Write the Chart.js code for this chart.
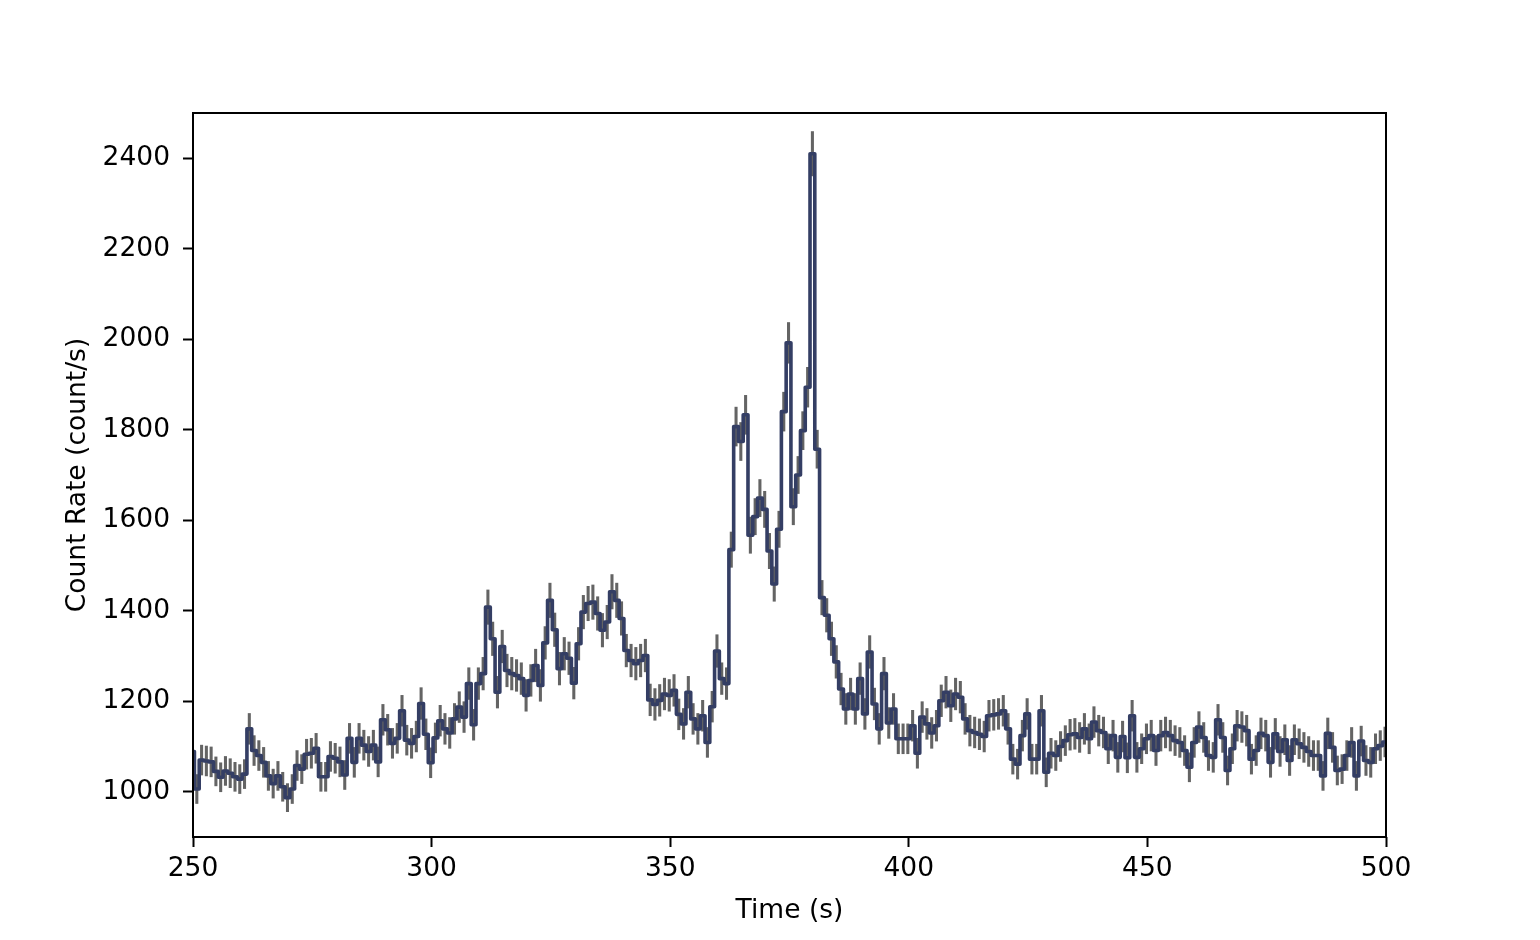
<!DOCTYPE html>
<html>
<head>
<meta charset="utf-8">
<script src="https://cdn.jsdelivr.net/npm/chart.js@4.4.1/dist/chart.umd.min.js"></script>
<style>
  html, body { margin: 0; padding: 0; background: #fff; }
  canvas { display: block; }
</style>
</head>
<body>
<canvas id="chart" width="1540" height="940"></canvas>
<script>
// bin centres (s), 1 s bins
var times = [
  249.8, 250.8, 251.8, 252.8, 253.8, 254.8, 255.8, 256.8, 257.8, 258.8,
  259.8, 260.8, 261.8, 262.8, 263.8, 264.8, 265.8, 266.8, 267.8, 268.8,
  269.8, 270.8, 271.8, 272.8, 273.8, 274.8, 275.8, 276.8, 277.8, 278.8,
  279.8, 280.8, 281.8, 282.8, 283.8, 284.8, 285.8, 286.8, 287.8, 288.8,
  289.8, 290.8, 291.8, 292.8, 293.8, 294.8, 295.8, 296.8, 297.8, 298.8,
  299.8, 300.8, 301.8, 302.8, 303.8, 304.8, 305.8, 306.8, 307.8, 308.8,
  309.8, 310.8, 311.8, 312.8, 313.8, 314.8, 315.8, 316.8, 317.8, 318.8,
  319.8, 320.8, 321.8, 322.8, 323.8, 324.8, 325.8, 326.8, 327.8, 328.8,
  329.8, 330.8, 331.8, 332.8, 333.8, 334.8, 335.8, 336.8, 337.8, 338.8,
  339.8, 340.8, 341.8, 342.8, 343.8, 344.8, 345.8, 346.8, 347.8, 348.8,
  349.8, 350.8, 351.8, 352.8, 353.8, 354.8, 355.8, 356.8, 357.8, 358.8,
  359.8, 360.8, 361.8, 362.8, 363.8, 364.8, 365.8, 366.8, 367.8, 368.8,
  369.8, 370.8, 371.8, 372.8, 373.8, 374.8, 375.8, 376.8, 377.8, 378.8,
  379.8, 380.8, 381.8, 382.8, 383.8, 384.8, 385.8, 386.8, 387.8, 388.8,
  389.8, 390.8, 391.8, 392.8, 393.8, 394.8, 395.8, 396.8, 397.8, 398.8,
  399.8, 400.8, 401.8, 402.8, 403.8, 404.8, 405.8, 406.8, 407.8, 408.8,
  409.8, 410.8, 411.8, 412.8, 413.8, 414.8, 415.8, 416.8, 417.8, 418.8,
  419.8, 420.8, 421.8, 422.8, 423.8, 424.8, 425.8, 426.8, 427.8, 428.8,
  429.8, 430.8, 431.8, 432.8, 433.8, 434.8, 435.8, 436.8, 437.8, 438.8,
  439.8, 440.8, 441.8, 442.8, 443.8, 444.8, 445.8, 446.8, 447.8, 448.8,
  449.8, 450.8, 451.8, 452.8, 453.8, 454.8, 455.8, 456.8, 457.8, 458.8,
  459.8, 460.8, 461.8, 462.8, 463.8, 464.8, 465.8, 466.8, 467.8, 468.8,
  469.8, 470.8, 471.8, 472.8, 473.8, 474.8, 475.8, 476.8, 477.8, 478.8,
  479.8, 480.8, 481.8, 482.8, 483.8, 484.8, 485.8, 486.8, 487.8, 488.8,
  489.8, 490.8, 491.8, 492.8, 493.8, 494.8, 495.8, 496.8, 497.8, 498.8,
  499.8
];

// count rate (count/s)
var rates = [
  1089, 1006, 1070, 1068, 1066, 1045, 1032, 1046, 1041, 1033,
  1028, 1039, 1139, 1091, 1080, 1065, 1035, 1018, 1035, 1011,
  987, 1006, 1058, 1050, 1083, 1085, 1096, 1033, 1033, 1078,
  1074, 1066, 1037, 1118, 1065, 1118, 1103, 1089, 1103, 1066,
  1159, 1137, 1107, 1118, 1179, 1114, 1107, 1122, 1195, 1127,
  1064, 1119, 1157, 1139, 1130, 1161, 1187, 1165, 1239, 1148,
  1239, 1261, 1408, 1338, 1220, 1321, 1268, 1261, 1257, 1250,
  1213, 1246, 1279, 1235, 1329, 1423, 1358, 1272, 1305, 1295,
  1240, 1327, 1397, 1416, 1419, 1394, 1357, 1375, 1442, 1423,
  1383, 1312, 1290, 1283, 1290, 1301, 1203, 1193, 1202, 1216,
  1213, 1224, 1171, 1150, 1220, 1161, 1139, 1168, 1109, 1188,
  1311, 1250, 1239, 1535, 1807, 1774, 1833, 1567, 1608, 1649,
  1624, 1532, 1459, 1580, 1840, 1992, 1630, 1700, 1798, 1894,
  2410, 1757, 1429, 1390, 1338, 1287, 1227, 1183, 1216, 1183,
  1250, 1172, 1309, 1194, 1139, 1261, 1152, 1183, 1117, 1117,
  1117, 1146, 1085, 1165, 1150, 1130, 1146, 1201, 1220, 1190,
  1216, 1209, 1161, 1135, 1131, 1127, 1122, 1168, 1170, 1172,
  1179, 1139, 1072, 1061, 1124, 1172, 1072, 1072, 1179, 1043,
  1085, 1080, 1100, 1113, 1126, 1128, 1120, 1139, 1117, 1154,
  1135, 1131, 1095, 1124, 1076, 1122, 1075, 1168, 1076, 1095,
  1117, 1124, 1091, 1124, 1131, 1124, 1113, 1109, 1091, 1054,
  1109, 1143, 1120, 1080, 1076, 1159, 1120, 1047, 1095, 1146,
  1143, 1135, 1072, 1091, 1129, 1124, 1065, 1128, 1089, 1115,
  1069, 1115, 1106, 1098, 1089, 1080, 1080, 1035, 1129, 1098,
  1047, 1050, 1080, 1109, 1035, 1112, 1069, 1065, 1095, 1102,
  1110
];

// 1-sigma error (count/s)
var errors = [
  33, 32, 33, 33, 33, 32, 32, 32, 32, 32,
  32, 32, 34, 33, 33, 33, 32, 32, 32, 32,
  31, 32, 33, 32, 33, 33, 33, 32, 32, 33,
  33, 33, 32, 33, 33, 33, 33, 33, 33, 33,
  34, 34, 33, 33, 34, 33, 33, 34, 35, 34,
  33, 33, 34, 34, 34, 34, 34, 34, 35, 34,
  35, 36, 38, 37, 35, 36, 36, 36, 35, 35,
  35, 35, 36, 35, 36, 38, 37, 36, 36, 36,
  35, 36, 37, 38, 38, 37, 37, 37, 38, 38,
  37, 36, 36, 36, 36, 36, 35, 35, 35, 35,
  35, 35, 34, 34, 35, 34, 34, 34, 33, 34,
  36, 35, 35, 39, 43, 42, 43, 40, 40, 41,
  40, 39, 38, 40, 43, 45, 40, 41, 42, 44,
  49, 42, 38, 37, 37, 36, 35, 34, 35, 34,
  35, 34, 36, 35, 34, 36, 34, 34, 33, 33,
  33, 34, 33, 34, 34, 34, 34, 35, 35, 35,
  35, 35, 34, 34, 34, 34, 34, 34, 34, 34,
  34, 34, 33, 33, 34, 34, 33, 33, 34, 32,
  33, 33, 33, 33, 34, 34, 33, 34, 33, 34,
  34, 34, 33, 34, 33, 34, 33, 34, 33, 33,
  33, 34, 33, 34, 34, 34, 33, 33, 33, 32,
  33, 34, 33, 33, 33, 34, 33, 32, 33, 34,
  34, 34, 33, 33, 34, 34, 33, 34, 33, 33,
  33, 33, 33, 33, 33, 33, 33, 32, 34, 33,
  32, 32, 33, 33, 32, 33, 33, 33, 33, 33,
  33
];

var xTicks = [250, 300, 350, 400, 450, 500];
var yTicks = [1000, 1200, 1400, 1600, 1800, 2000, 2200, 2400];
var xLabel = "Time (s)";
var yLabel = "Count Rate (count/s)";

var lineColor = "#343e64";
var errColor = "#646464";
var fontFamily = "'DejaVu Sans', sans-serif";

var linePoints = times.map(function(t, i){ return {x: t, y: rates[i]}; });
var errPoints = times.map(function(t, i){
  return {x: t, y: [rates[i] - errors[i], rates[i] + errors[i]]};
});

// box around the plot area (matplotlib spines)
var frame = {
  id: 'frame',
  afterDraw: function(chart){
    var a = chart.chartArea, c = chart.ctx;
    c.save();
    c.strokeStyle = '#000';
    c.lineWidth = 2;
    c.strokeRect(a.left, a.top, a.right - a.left, a.bottom - a.top);
    c.restore();
  }
};

function tickAxis(values){
  return function(scale){
    scale.ticks = values.map(function(v){ return {value: v}; });
  };
}

var ctx = document.getElementById("chart").getContext("2d");
var chart = new Chart(ctx, {
  type: 'line',
  data: {
    datasets: [{
      type: 'line',
      data: linePoints,
      borderColor: lineColor,
      borderWidth: 3.6,
      stepped: 'middle',
      pointRadius: 0,
      fill: false,
      borderJoinStyle: 'round',
      borderCapStyle: 'round',
      order: 1
    }, {
      type: 'bar',
      data: errPoints,
      backgroundColor: errColor,
      borderWidth: 0,
      barThickness: 2.4,
      grouped: false,
      order: 2
    }]
  },
  options: {
    responsive: false,
    animation: false,
    devicePixelRatio: 1,
    layout: { padding: { left: 0, top: 113, right: 154, bottom: 0 } },
    plugins: { legend: { display: false }, tooltip: { enabled: false } },
    scales: {
      x: {
        type: 'linear',
        min: 250,
        max: 500,
        offset: false,
        afterBuildTicks: tickAxis(xTicks),
        afterFit: function(s){ s.height = 103; },
        border: { display: false },
        grid: { display: true, offset: false, drawOnChartArea: false, drawTicks: true, tickLength: 10, tickWidth: 2, tickColor: '#000' },
        ticks: {
          color: '#000',
          font: { family: fontFamily, size: 26.5 },
          padding: 6,
          maxRotation: 0,
          autoSkip: false,
          callback: function(v){ return String(v); }
        },
        title: {
          display: true,
          text: xLabel,
          color: '#000',
          font: { family: fontFamily, size: 26.5 },
          padding: { top: 0, bottom: 13 }
        }
      },
      y: {
        type: 'linear',
        min: 900,
        max: 2500,
        afterBuildTicks: tickAxis(yTicks),
        afterFit: function(s){ s.width = 193; },
        border: { display: false },
        grid: { display: true, drawOnChartArea: false, drawTicks: true, tickLength: 10, tickWidth: 2, tickColor: '#000' },
        ticks: {
          color: '#000',
          font: { family: fontFamily, size: 26.5 },
          padding: 13,
          autoSkip: false,
          callback: function(v){ return String(v); }
        },
        title: {
          display: true,
          text: yLabel,
          color: '#000',
          font: { family: fontFamily, size: 26.5 },
          padding: { top: 62, bottom: 0 }
        }
      }
    }
  },
  plugins: [frame]
});
</script>
</body>
</html>
